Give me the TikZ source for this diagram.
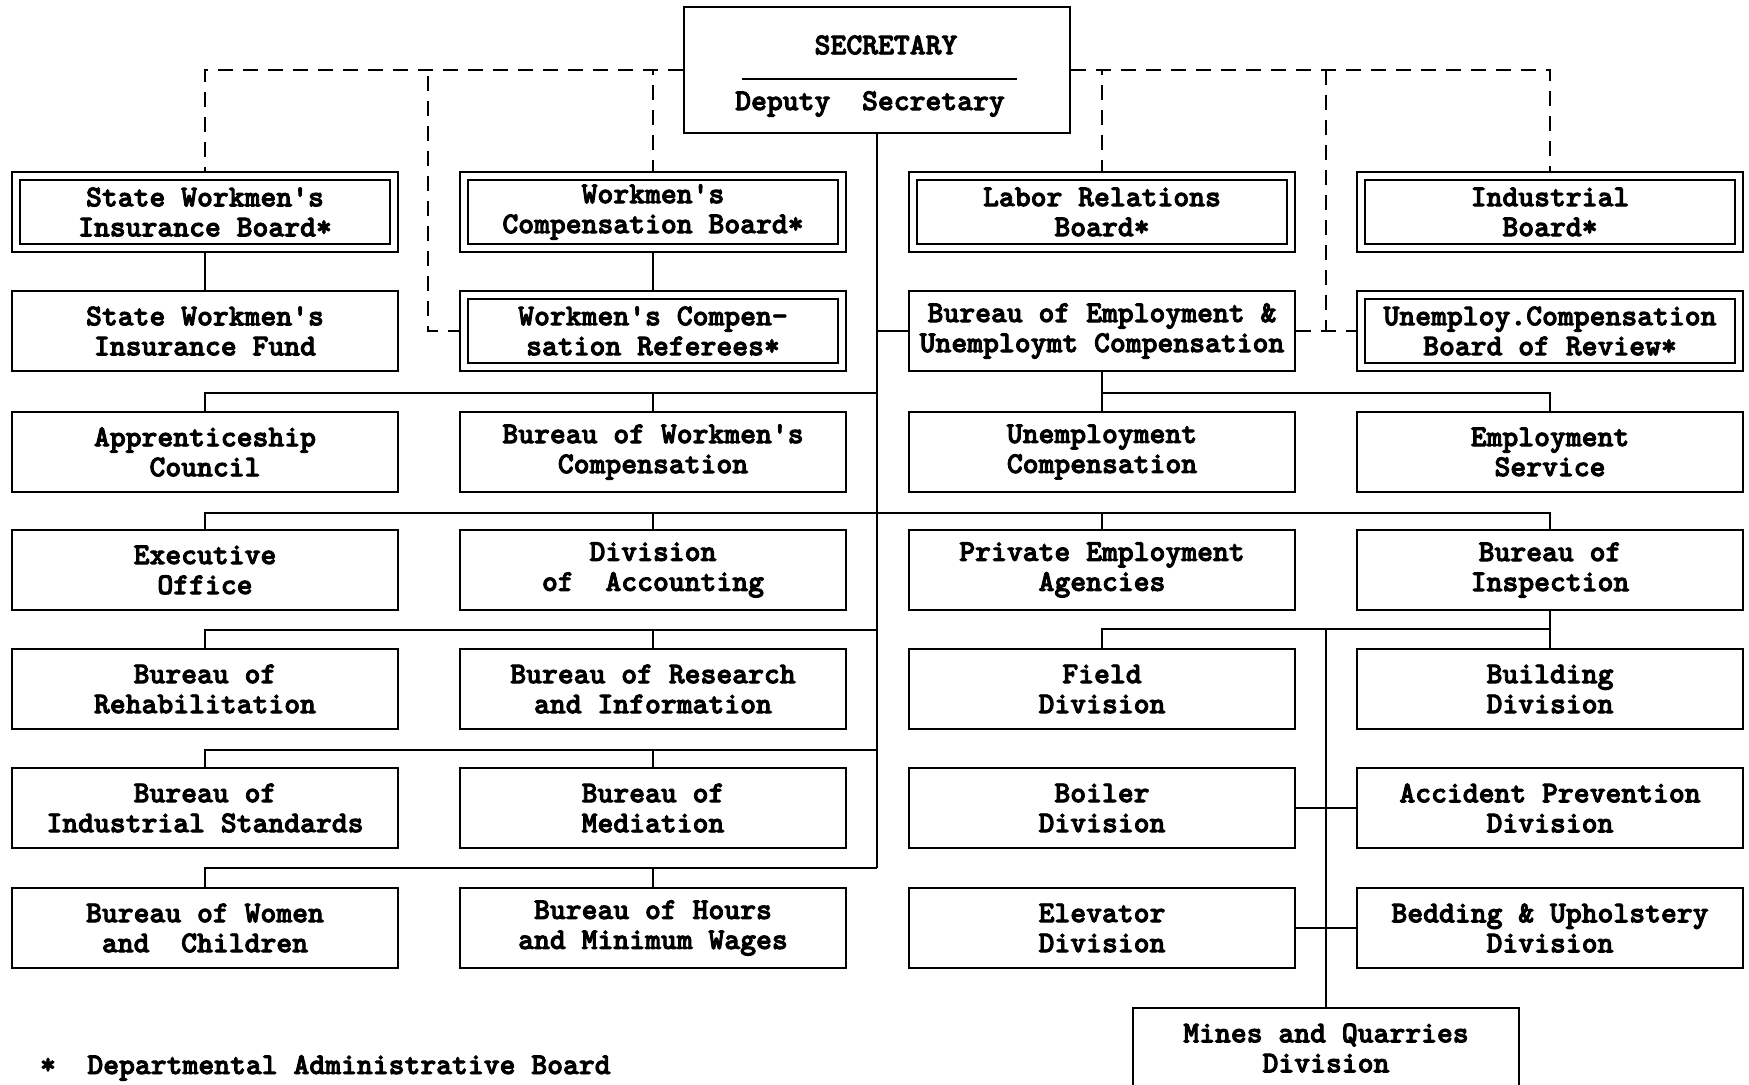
\documentclass[tikz,border=0pt]{standalone}
\usepackage{fontspec}
\newfontfamily\typewriter[FakeBold=3]{lmmonolt10-bold.otf}
\newcommand{\tw}{\typewriter\fontsize{15.1pt}{15pt}\selectfont}
\usetikzlibrary{backgrounds}

\begin{document}
\begin{tikzpicture}[x=0.5pt,y=-0.5pt,
  box/.style={draw, line width=1.2pt, fill=white, minimum width=193pt,
    minimum height=40pt, inner sep=0pt, align=center, font=\tw},
  dbox/.style={box, line width=1.1pt, double, double distance=2.9pt,
    minimum width=189pt, minimum height=36pt},
  link/.style={line width=1pt},
  dlink/.style={line width=1pt, dash pattern=on 7.5pt off 5pt},
  lbl/.style={font=\tw, inner sep=0pt}]

\useasboundingbox (0,0) rectangle (1749,1084);
\clip (0,0) rectangle (1749,1084);

% ---- head office ----
\node[draw, line width=1.2pt, minimum width=193pt, minimum height=63pt,
      inner sep=0pt] (sec) at (877,70) {};
\node[lbl] (sectitle) at (886,45) {SECRETARY};
\node[lbl] (deputy) at (870,104) {Deputy~~Secretary};
\draw[line width=1.2pt] (742,79) -- (1017,79);

% ---- boards (double frames) ----
\node[dbox] (c1r1) at (205,212) {State Workmen's\\Insurance Board*};
\node[dbox] (c2r1) at (653,212) {Workmen's\\Compensation Board*};
\node[dbox] (c3r1) at (1102,212) {Labor Relations\\Board*};
\node[dbox] (c4r1) at (1550,212) {Industrial\\Board*};

\node[box]  (c1r2) at (205,331) {State Workmen's\\Insurance Fund};
\node[dbox] (c2r2) at (653,331) {Workmen's Compen-\\sation Referees*};
\node[box]  (c3r2) at (1102,331) {Bureau of Employment \&\\Unemploymt Compensation};
\node[dbox] (c4r2) at (1550,331) {Unemploy.Compensation\\Board of Review*};

% ---- bureaus and divisions ----
\node[box] (c1r3) at (205,452) {Apprenticeship\\Council};
\node[box] (c2r3) at (653,452) {Bureau of Workmen's\\Compensation};
\node[box] (c3r3) at (1102,452) {Unemployment\\Compensation};
\node[box] (c4r3) at (1550,452) {Employment\\Service};

\node[box] (c1r4) at (205,570) {Executive\\Office};
\node[box] (c2r4) at (653,570) {Division\\of~~Accounting};
\node[box] (c3r4) at (1102,570) {Private Employment\\Agencies};
\node[box] (c4r4) at (1550,570) {Bureau of\\Inspection};

\node[box] (c1r5) at (205,689) {Bureau of\\Rehabilitation};
\node[box] (c2r5) at (653,689) {Bureau of Research\\and Information};
\node[box] (c3r5) at (1102,689) {Field\\Division};
\node[box] (c4r5) at (1550,689) {Building\\Division};

\node[box] (c1r6) at (205,808) {Bureau of\\Industrial Standards};
\node[box] (c2r6) at (653,808) {Bureau of\\Mediation};
\node[box] (c3r6) at (1102,808) {Boiler\\Division};
\node[box] (c4r6) at (1550,808) {Accident Prevention\\Division};

\node[box] (c1r7) at (205,928) {Bureau of Women\\and~~Children};
\node[box] (c2r7) at (653,928) {Bureau of Hours\\and Minimum Wages};
\node[box] (c3r7) at (1102,928) {Elevator\\Division};
\node[box] (c4r7) at (1550,928) {Bedding \& Upholstery\\Division};

\node[box] (mines) at (1326,1048) {Mines and Quarries\\Division};

% ---- footnote ----
\node[lbl] (star) at (48,1066) {*};
\node[lbl, anchor=base west] (note) at (87,1074) {Departmental Administrative Board};

% ---- junction points ----
\coordinate (dl) at (428,70);
\coordinate (dr) at (1326,70);
\coordinate (b3) at (877,393);
\coordinate (b4) at (877,513);
\coordinate (b5) at (877,630);
\coordinate (b6) at (877,750);
\coordinate (b7) at (877,868);
\coordinate (fork) at (1326,629);

\begin{pgfonlayer}{background}
  % advisory boards (dashed)
  \draw[dlink] (sec.west) -| (c1r1.north);
  \draw[dlink] (c2r1.north) -- (c2r1.north |- sec.west);
  \draw[dlink] (c2r2.west) -| (dl);
  \draw[dlink] (sec.east) -| (c4r1.north);
  \draw[dlink] (c3r1.north) -- (c3r1.north |- sec.east);
  \draw[dlink] (c3r2.east) -- (c4r2.west);
  \draw[dlink] (dr) -- (dr |- c3r2.east);

  % line of authority (solid)
  \draw[link] (sec.south) -- (b7);
  \draw[link] (c1r1.south) -- (c1r2.north);
  \draw[link] (c2r1.south) -- (c2r2.north);
  \draw[link] (c3r2.west) -- (c3r2.west -| sec.south);

  \draw[link] (b3) -| (c1r3.north);
  \draw[link] (c2r3.north) -- (c2r3.north |- b3);
  \draw[link] (c3r2.south) -- (c3r3.north);
  \draw[link] (c3r2.south |- b3) -| (c4r3.north);

  \draw[link] (c1r4.north) |- (b4) -| (c4r4.north);
  \draw[link] (c2r4.north) -- (c2r4.north |- b4);
  \draw[link] (c3r4.north) -- (c3r4.north |- b4);

  \draw[link] (b5) -| (c1r5.north);
  \draw[link] (c2r5.north) -- (c2r5.north |- b5);
  \draw[link] (c4r4.south) -- (c4r5.north);
  \draw[link] (c3r5.north) |- (fork) -| (c4r5.north);
  \draw[link] (fork) -- (mines.north);
  \draw[link] (c3r6.east) -- (c4r6.west);
  \draw[link] (c3r7.east) -- (c4r7.west);

  \draw[link] (b6) -| (c1r6.north);
  \draw[link] (c2r6.north) -- (c2r6.north |- b6);

  \draw[link] (b7) -| (c1r7.north);
  \draw[link] (c2r7.north) -- (c2r7.north |- b7);
\end{pgfonlayer}
\end{tikzpicture}
\end{document}
